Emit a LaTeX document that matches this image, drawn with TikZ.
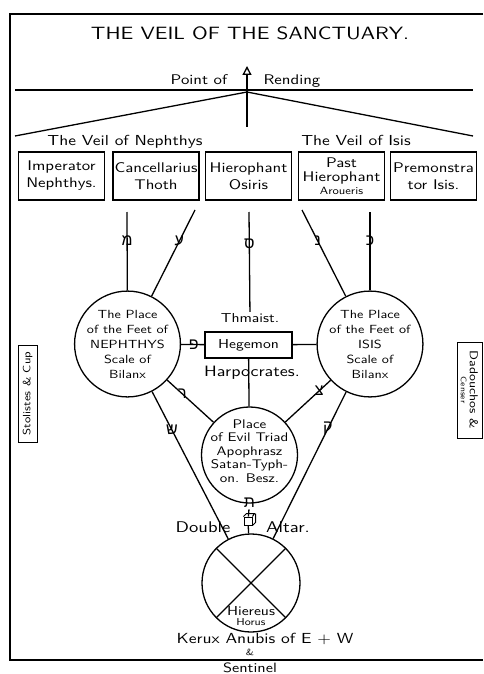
\documentclass[tikz,border=0pt]{standalone}
\usepackage{fontspec}
\newfontfamily\hebfont[Script=Hebrew]{Liberation Sans}
\newfontfamily\hand[FakeStretch=1.2]{lmsans10-regular.otf}
\newcommand\handsz[2]{\hand\fontsize{#1}{#2}\selectfont}
\usetikzlibrary{arrows.meta}

\tikzset{
  every picture/.style={line width=1.3pt},
  frame/.style={line width=1.8pt},
  office/.style={draw, minimum width=86, minimum height=48, inner sep=1pt,
    align=center, font=\handsz{14}{17}},
  place/.style={draw, circle, minimum size=96, inner sep=0pt, align=center,
    font=\handsz{11.8}{15}},
  hebl/.style={font=\hebfont\fontsize{16}{16}\selectfont, inner sep=1pt},
  note/.style={font=\handsz{14}{16}, inner sep=1pt},
  sidebox/.style={draw, inner sep=1pt, align=center, line width=1pt}
}

\begin{document}
\begin{tikzpicture}[x=1pt,y=-1pt]
  \useasboundingbox (0,0) rectangle (483,674);
  \draw[frame] (483,14) -- (10,14) -- (10,660) -- (483,660); % outer frame

  \node[font=\handsz{17.8}{22}] (title) at (250,33)
    {THE VEIL OF THE SANCTUARY.};

  % the veil and the point of rending
  \coordinate (horL) at (15,90);
  \coordinate (horR) at (473,90);
  \coordinate (rend) at (247,92);
  \coordinate (veilL) at (15,136);
  \coordinate (veilR) at (473,136);
  \coordinate (arrowfoot) at (247,127);
  \coordinate (arrowtip) at (247,66);
  \draw (horL) -- (horR);
  \draw (veilL) -- (rend) -- (veilR);
  \draw[-{Triangle[open,length=9pt,width=9pt]}] (arrowfoot) -- (arrowtip);
  \node[note, anchor=base] (point) at (199,85) {Point of};
  \node[note, anchor=base] (rending) at (292,85) {Rending};
  \node[note, anchor=base, font=\handsz{14.5}{16}] (veilneph) at (125,145) {The Veil of Nephthys};
  \node[note, anchor=base, font=\handsz{14.5}{16}] (veilisis) at (356,145) {The Veil of Isis};

  % the five officers on the dais
  \foreach \nm/\cx/\txt in {imp/61.5/{Imperator\\Nephthys.},
      can/156/{Cancellarius\\Thoth}, hie/248.5/{Hierophant\\Osiris},
      pre/433.5/{Premonstra\\tor Isis.}}
    \node[office] (\nm) at (\cx,176) {\txt};
  \node[office] (pasth) at (341.5,176)
    {Past\\[-3pt]Hierophant\\[-4.5pt]{\handsz{10.5}{11}Aroueris}};

  % the places on the floor
  \node[place] (neph) at (127.5,344)
    {The Place\\of the Feet of\\NEPHTHYS\\Scale of\\Bilanx};
  \node[place] (isis) at (370,344)
    {The Place\\of the Feet of\\ISIS\\Scale of\\Bilanx};
  \node[place] (triad) at (249.5,455) {};
  \node[align=center, inner sep=0pt, font=\handsz{12.5}{13.5}] (triadtxt) at (249.5,451)
    {Place\\of Evil Triad\\Apophrasz\\Satan-Typh-\\on. Besz.};
  \node[place, minimum size=98] (altar) at (251,583) {};
  \draw (altar.north west) -- (altar.south east);
  \draw (altar.north east) -- (altar.south west);
  \node[align=center, inner sep=0pt] (hiereus) at (251,616)
    {\handsz{13}{12}Hiereus\\[-2pt]\handsz{10}{10}Horus};

  \node[draw, minimum width=87, minimum height=26, note, font=\handsz{13}{15}] (heg) at (248.5,345) {Hegemon};
  \node[note, font=\handsz{13}{15}] (thm) at (250,318) {Thmaist.};

  % paths from the veil
  \coordinate (pa) at (127,212);
  \coordinate (pb) at (195,210);
  \coordinate (pc) at (249,212);
  \coordinate (pd) at (302,210);
  \coordinate (pe) at (370,212);
  \draw (pa) -- (neph) node[hebl, pos=.37] {מ};
  \draw (pb) -- (neph) node[hebl, pos=.36] {ע};
  \draw (pc) -- (thm) node[hebl, pos=.32] {ס};
  \draw (pd) -- (isis) node[hebl, pos=.36] {נ};
  \draw (pe) -- (isis) node[hebl, pos=.37] {כ};

  \draw (neph) -- (heg) node[hebl, pos=.55] {פ};
  \draw (heg) -- (isis);
  \draw (heg) -- (triad);
  \node[note, font=\handsz{15}{16}] (harp) at (252,373) {Harpocrates.};

  \draw (neph) -- (triad) node[hebl, pos=.33] {ר};
  \draw (isis) -- (triad) node[hebl, pos=.25] {צ};
  \draw (neph) -- (altar) node[hebl, pos=.26] {ש};
  \draw (isis) -- (altar) node[hebl, pos=.25] {ק};

  % the double cube altar
  \node[hebl] (tau) at (249.5,503) {ת};
  \node[draw, minimum width=8, minimum height=8, inner sep=0pt, line width=1pt] (cube) at (248,521) {};
  \draw[line width=1pt] (cube.north west) -- ++(3,-3) -- ++(8,0) -- (cube.north east);
  \draw[line width=1pt] ([shift={(3,-3)}]cube.north east) -- ([shift={(3,-3)}]cube.south east) -- (cube.south east);
  \draw (tau) -- (cube);
  \draw (cube) -- (altar);

  \node[note, font=\handsz{15.5}{16}] (double) at (203,527) {Double};
  \node[note, font=\handsz{15.5}{16}] (altartxt) at (288,527) {Altar.};
  \node[note, font=\handsz{14.6}{16}] (kerux) at (265,639) {Kerux Anubis of E + W};
  \node[note, font=\handsz{9}{9}] (amp) at (250,652) {\&};
  \node[note, anchor=base, font=\handsz{13.5}{14}] (sentinel) at (250,672) {Sentinel};

  % the side stations
  \node[sidebox, rotate=90, minimum width=97, minimum height=19,
    font=\handsz{10.6}{11}] (stol) at (27.5,393.5) {Stolistes \& Cup};
  \node[sidebox, rotate=-90, minimum width=96, minimum height=25,
    font=\handsz{11.5}{9}] (dad) at (469.5,390)
    {Dadouchos \&\\{\handsz{8}{8}Censer}};
\end{tikzpicture}
\end{document}
